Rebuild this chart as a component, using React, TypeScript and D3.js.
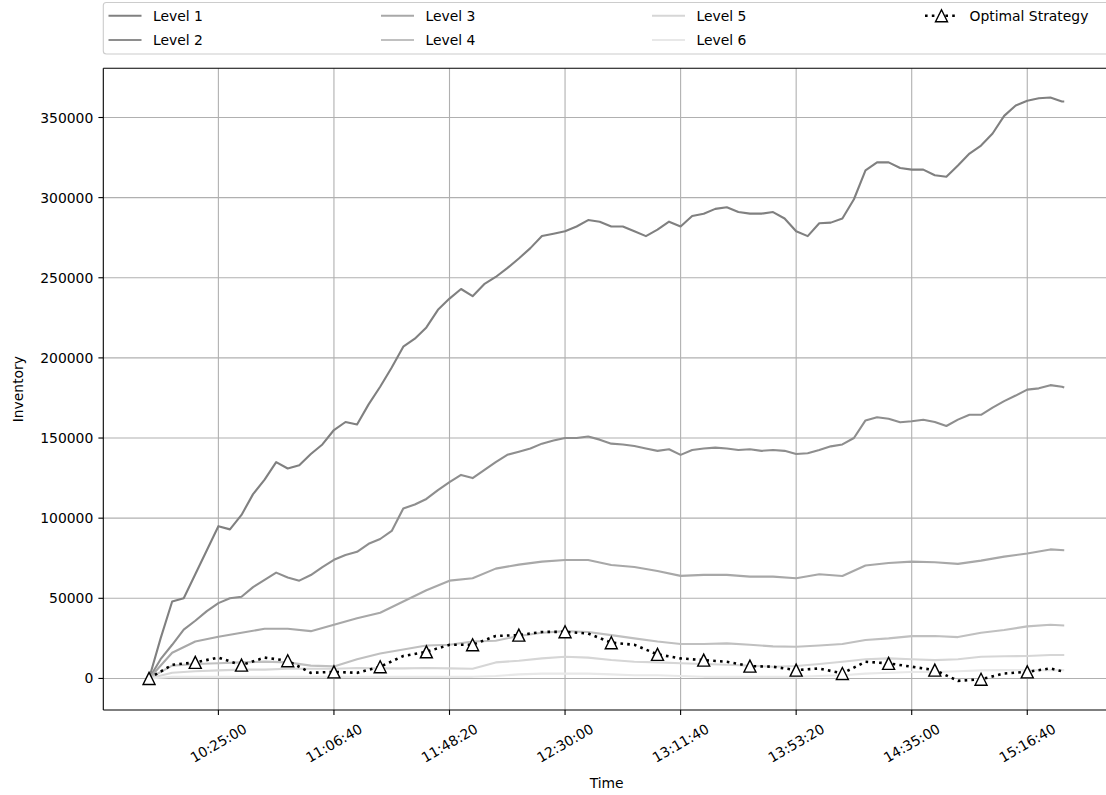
import React from "react";
import * as d3 from "d3";

// ---- Data (seconds after 10:00:00) ----
const START_SECONDS = 10 * 3600;
const END_OFFSET = 19800; // 15:30:00
const TIMES_FINE = [...d3.range(0, END_OFFSET, 250), END_OFFSET];
const TIMES = [...d3.range(0, END_OFFSET, 500), END_OFFSET];

const level1 = [
  0, 25000, 48000, 50000, 65000, 80000, 95000, 93000, 102000, 115000,
  124000, 135000, 131000, 133000, 140000, 146000, 155000, 160000, 158500, 171000,
  182000, 194000, 207000, 212000, 219000, 230000, 237000, 243000, 238500, 246000,
  250500, 256000, 262000, 268500, 276000, 277500, 279000, 282000, 286000, 285000,
  282000, 282000, 279000, 276000, 280000, 285000, 282000, 288500, 290000, 293000,
  294000, 291000, 290000, 290000, 291000, 287000, 279000, 276000, 284000, 284400,
  287000, 299000, 317000, 322000, 322000, 318500, 317500, 317500, 314000, 313000,
  320000, 327500, 332500, 340000, 351000, 357500, 360500, 362000, 362500, 360000,
  360000,
];
const level2 = [
  0, 12000, 21000, 30500, 36000, 42000, 47000, 50000, 51000, 57000,
  61500, 66000, 63000, 61000, 64500, 69500, 74000, 77000, 79000, 84000,
  87000, 92000, 106000, 108500, 112000, 117500, 122500, 127000, 125000, 130000,
  135000, 139500, 141500, 143500, 146500, 148500, 150000, 150000, 151000, 149000,
  146500, 146000, 145000, 143500, 142000, 143000, 139500, 142500, 143500, 144000,
  143500, 142500, 143000, 142000, 142500, 142000, 140000, 140500, 142500, 144800,
  146000, 150000, 161000, 163000, 162000, 159800, 160500, 161400, 160000, 157500,
  161500, 164500, 164500, 169000, 173000, 176500, 180200, 181000, 183000, 182000,
  181500,
];
const level3 = [
  0, 16000, 23000, 26000, 28500, 31000, 31000, 29500, 33500, 37500,
  41000, 48000, 55000, 61000, 62500, 68500, 71000, 72900, 73900, 73900,
  70800, 69500, 67000, 64000, 64600, 64600, 63500, 63500, 62500, 65000,
  63900, 70500, 72000, 72900, 72500, 71500, 73500, 76000, 78000, 80500,
  80000,
];
const level4 = [
  0, 8000, 9000, 9500, 10000, 10500, 10000, 8000, 7500, 12000,
  15500, 18000, 20500, 21000, 23000, 23500, 26500, 28500, 29500, 29000,
  27000, 25000, 23000, 21500, 21500, 21900, 21000, 20000, 19750, 20500,
  21500, 24000, 25000, 26400, 26500, 25800, 28500, 30200, 32500, 33500,
  33000,
];
const level5 = [
  0, 3500, 4500, 5000, 5500, 5500, 6000, 6000, 6000, 6500,
  6250, 6250, 6500, 6250, 6000, 10000, 11000, 12500, 13500, 13000,
  11500, 10400, 10000, 9500, 9000, 8500, 8000, 7300, 7800, 9000,
  10400, 12000, 12500, 12000, 11400, 12000, 13500, 13800, 14000, 14600,
  14600,
];
const level6 = [
  0, 1000, 1000, 1000, 1000, 1000, 1000, 1000, 1000, 1000,
  1000, 1000, 1000, 1000, 1000, 1500, 2500, 3000, 3000, 3000,
  2500, 2000, 2000, 1500, 1000, 1000, 1000, 1000, 1000, 1500,
  2000, 3000, 3500, 4000, 4000, 4500, 5000, 5200, 5200, 5200,
  5200,
];
const optimal = [
  0, 8500, 10000, 13000, 8300, 13000, 11000, 3500, 4100, 3500,
  7300, 14000, 16600, 21000, 21000, 26500, 27000, 29000, 29100, 28000,
  22300, 21000, 15000, 12500, 11400, 10400, 7700, 7300, 5200, 6200,
  3100, 10400, 9400, 7300, 5200, -1500, -500, 3100, 4100, 6250,
  4100,
];
const MARKER_EVERY = 2; // markers every 1000 s

const X_TICKS = [1500, 4000, 6500, 9000, 11500, 14000, 16500, 19000];
const Y_TICKS = [0, 50000, 100000, 150000, 200000, 250000, 300000, 350000];

const LEVELS = [
  { name: "Level 1", times: TIMES_FINE, values: level1, color: "#808080" },
  { name: "Level 2", times: TIMES_FINE, values: level2, color: "#8e8e8e" },
  { name: "Level 3", times: TIMES, values: level3, color: "#a8a8a8" },
  { name: "Level 4", times: TIMES, values: level4, color: "#c0c0c0" },
  { name: "Level 5", times: TIMES, values: level5, color: "#d6d6d6" },
  { name: "Level 6", times: TIMES, values: level6, color: "#e8e8e8" },
];

const W = 1106;
const H = 795;
const AX = { left: 103.3, right: 1110, top: 68.3, bottom: 710 };
const FONT = "DejaVu Sans, sans-serif";
const FS = 13.9;

function fmtTime(off: number) {
  const s = START_SECONDS + off;
  const hh = Math.floor(s / 3600);
  const mm = Math.floor((s % 3600) / 60);
  const ss = s % 60;
  const p = (n: number) => String(n).padStart(2, "0");
  return `${p(hh)}:${p(mm)}:${p(ss)}`;
}

function Triangle({ cx, cy, r }: { cx: number; cy: number; r: number }) {
  const pts = `${cx},${cy - r} ${cx - r},${cy + r} ${cx + r},${cy + r}`;
  return <polygon points={pts} fill="#fff" stroke="#000" strokeWidth={1.4} strokeLinejoin="miter" />;
}

export default function App() {
  const xPad = END_OFFSET * 0.05;
  const x = d3.scaleLinear().domain([-xPad, END_OFFSET + xPad]).range([AX.left, AX.right]);
  const all = [...LEVELS.flatMap((l) => l.values), ...optimal];
  const yMin = d3.min(all)!;
  const yMax = d3.max(all)!;
  const yPad = (yMax - yMin) * 0.05;
  const y = d3.scaleLinear().domain([yMin - yPad, yMax + yPad]).range([AX.bottom, AX.top]);

  const lineGen = (times: number[]) =>
    d3
      .line<number>()
      .x((_, i) => x(times[i]))
      .y((d) => y(d));

  const legendCols = [108.5, 381, 652, 925];
  const legendRows = [15.7, 40];
  const legendItems = [
    { col: 0, row: 0, idx: 0 },
    { col: 0, row: 1, idx: 1 },
    { col: 1, row: 0, idx: 2 },
    { col: 1, row: 1, idx: 3 },
    { col: 2, row: 0, idx: 4 },
    { col: 2, row: 1, idx: 5 },
  ];
  const handleLen = 33;

  return (
    <svg
      width={W}
      height={H}
      style={{ position: "absolute", left: 0, top: 0, background: "#fff" }}
      fontFamily={FONT}
      fontSize={FS}
    >
      <rect x={0} y={0} width={W} height={H} fill="#fff" />
      <defs>
        <clipPath id="plotclip">
          <rect x={AX.left} y={AX.top} width={AX.right - AX.left} height={AX.bottom - AX.top} />
        </clipPath>
      </defs>

      {/* grid */}
      <g stroke="#b0b0b0" strokeWidth={1.1}>
        {X_TICKS.map((t) => (
          <line key={"gx" + t} x1={x(t)} x2={x(t)} y1={AX.top} y2={AX.bottom} />
        ))}
        {Y_TICKS.map((v) => (
          <line key={"gy" + v} x1={AX.left} x2={AX.right} y1={y(v)} y2={y(v)} />
        ))}
      </g>

      {/* series */}
      <g clipPath="url(#plotclip)" fill="none">
        {LEVELS.map((l) => (
          <path
            key={l.name}
            d={lineGen(l.times)(l.values) || ""}
            stroke={l.color}
            strokeWidth={2.1}
            strokeLinejoin="round"
          />
        ))}
        <path
          d={lineGen(TIMES)(optimal) || ""}
          stroke="#000"
          strokeWidth={2.6}
          strokeDasharray="2.6 4.2"
        />
        {optimal.map((v, i) =>
          i % MARKER_EVERY === 0 && TIMES[i] < END_OFFSET ? (
            <Triangle key={"m" + i} cx={x(TIMES[i])} cy={y(v)} r={6} />
          ) : null
        )}
      </g>

      {/* spines */}
      <g stroke="#000" strokeWidth={1.1} fill="none">
        <line x1={AX.left} x2={AX.left} y1={AX.top} y2={AX.bottom} />
        <line x1={AX.left} x2={AX.right} y1={AX.bottom} y2={AX.bottom} />
        <line x1={AX.left} x2={AX.right} y1={AX.top} y2={AX.top} />
        <line x1={AX.right} x2={AX.right} y1={AX.top} y2={AX.bottom} />
      </g>

      {/* x ticks */}
      {X_TICKS.map((t) => (
        <g key={"xt" + t}>
          <line x1={x(t)} x2={x(t)} y1={AX.bottom} y2={AX.bottom + 4.9} stroke="#000" strokeWidth={1.1} />
          <text
            transform={`translate(${x(t)},${743}) rotate(-30)`}
            textAnchor="middle"
            dominantBaseline="central"
            fill="#000"
          >
            {fmtTime(t)}
          </text>
        </g>
      ))}
      <text x={(AX.left + AX.right) / 2} y={783} textAnchor="middle" dominantBaseline="central">
        Time
      </text>

      {/* y ticks */}
      {Y_TICKS.map((v) => (
        <g key={"yt" + v}>
          <line x1={AX.left - 4.9} x2={AX.left} y1={y(v)} y2={y(v)} stroke="#000" strokeWidth={1.1} />
          <text x={AX.left - 10} y={y(v)} textAnchor="end" dominantBaseline="central" fill="#000">
            {v}
          </text>
        </g>
      ))}
      <text
        transform={`translate(18,${(AX.top + AX.bottom) / 2}) rotate(-90)`}
        textAnchor="middle"
        dominantBaseline="central"
      >
        Inventory
      </text>

      {/* legend */}
      <rect
        x={AX.left}
        y={2.5}
        width={AX.right - AX.left}
        height={51.5}
        rx={3}
        fill="#fff"
        fillOpacity={0.8}
        stroke="#cccccc"
        strokeWidth={1.1}
      />
      {legendItems.map((it) => {
        const l = LEVELS[it.idx];
        const lx = legendCols[it.col];
        const ly = legendRows[it.row];
        return (
          <g key={"lg" + l.name}>
            <line x1={lx} x2={lx + handleLen} y1={ly} y2={ly} stroke={l.color} strokeWidth={2.1} />
            <text x={lx + 44.5} y={ly} dominantBaseline="central">
              {l.name}
            </text>
          </g>
        );
      })}
      <g>
        <line
          x1={legendCols[3]}
          x2={legendCols[3] + handleLen}
          y1={legendRows[0]}
          y2={legendRows[0]}
          stroke="#000"
          strokeWidth={2.6}
          strokeDasharray="2.6 4.2"
        />
        <Triangle cx={legendCols[3] + handleLen / 2} cy={legendRows[0]} r={6} />
        <text x={legendCols[3] + 44.5} y={legendRows[0]} dominantBaseline="central">
          Optimal Strategy
        </text>
      </g>
    </svg>
  );
}
